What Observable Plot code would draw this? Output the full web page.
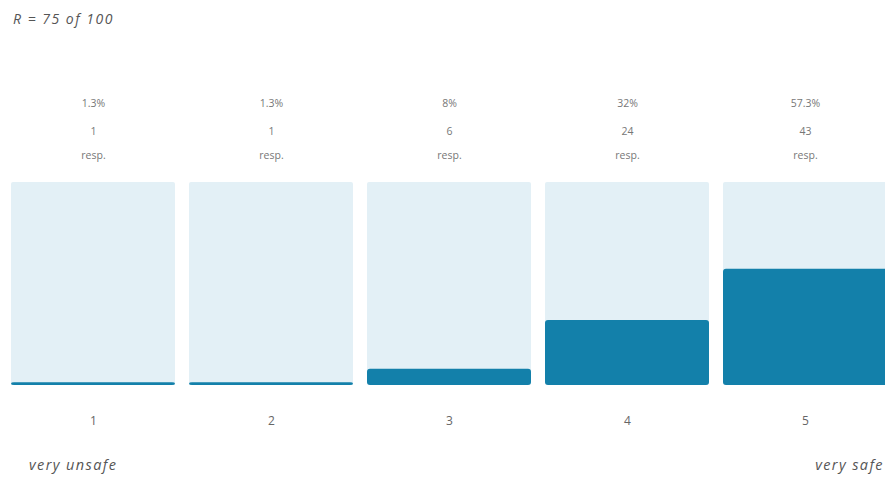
<!DOCTYPE html>
<html>
<head>
<meta charset="utf-8">
<script src="https://cdn.jsdelivr.net/npm/d3@7"></script>
<script src="https://cdn.jsdelivr.net/npm/@observablehq/plot@0.6"></script>
<style>
  html, body { margin: 0; padding: 0; background: #fff; overflow: hidden; }
  body { width: 885px; height: 482px; font-family: "Open Sans", sans-serif; color: #555; }
  #head { height: 40px; position: relative; }
  #head span { position: absolute; left: 13px; top: 9px; font-size: 14px; font-style: italic; color: #555; letter-spacing: 1.5px; }
  #foot { height: 42px; position: relative; }
  #foot span { position: absolute; top: 15px; font-size: 14.5px; font-style: italic; color: #555; letter-spacing: 1.4px; }
  #chart svg { display: block; overflow: visible; max-width: none !important; }
</style>
</head>
<body>
<div id="head"><span>R = 75 of 100</span></div>
<div id="chart"></div>
<div id="foot"><span style="left:29px">very unsafe</span><span style="right:1px">very safe</span></div>
<script>
// Answers on a 1–5 safety scale
const categories = ["1", "2", "3", "4", "5"];
const counts = [1, 1, 6, 24, 43];
const percents = [1.3, 1.3, 8, 32, 57.3];
const percentLabels = ["1.3%", "1.3%", "8%", "32%", "57.3%"];
const countLabels = ["1", "1", "6", "24", "43"];
const unitLabel = "resp.";

const rows = categories.map((c, i) => ({
  category: c,
  count: counts[i],
  pct: percents[i],
  pctLabel: percentLabels[i],
  countLabel: countLabels[i]
}));

const textStyle = {fontSize: 10.5, fill: "#777", lineAnchor: "middle", frameAnchor: "top", letterSpacing: 0.8};

const chart = Plot.plot({
  width: 889,
  height: 400,
  marginLeft: 10,
  marginRight: 0,
  marginTop: 142,
  marginBottom: 55,
  style: {fontFamily: "Open Sans, sans-serif", background: "transparent"},
  x: {domain: categories, paddingInner: 0.076, paddingOuter: 0, label: null},
  y: {domain: [0, 100], axis: null},
  marks: [
    // full-height track behind each bar
    Plot.barY(rows, {x: "category", y: () => 100, fill: "#e3f0f6", rx: 2}),
    // share of respondents
    Plot.barY(rows, {x: "category", y: "pct", fill: "#1380aa", rx: 3}),
    Plot.text(rows, {x: "category", text: "pctLabel", dy: -79, ...textStyle}),
    Plot.text(rows, {x: "category", text: "countLabel", dy: -51, ...textStyle}),
    Plot.text(rows, {x: "category", text: () => unitLabel, dy: -27, ...textStyle}),
    Plot.axisX({tickSize: 0, tickPadding: 31, fontSize: 12, color: "#666", label: null})
  ]
});

document.getElementById("chart").appendChild(chart);
</script>
</body>
</html>
